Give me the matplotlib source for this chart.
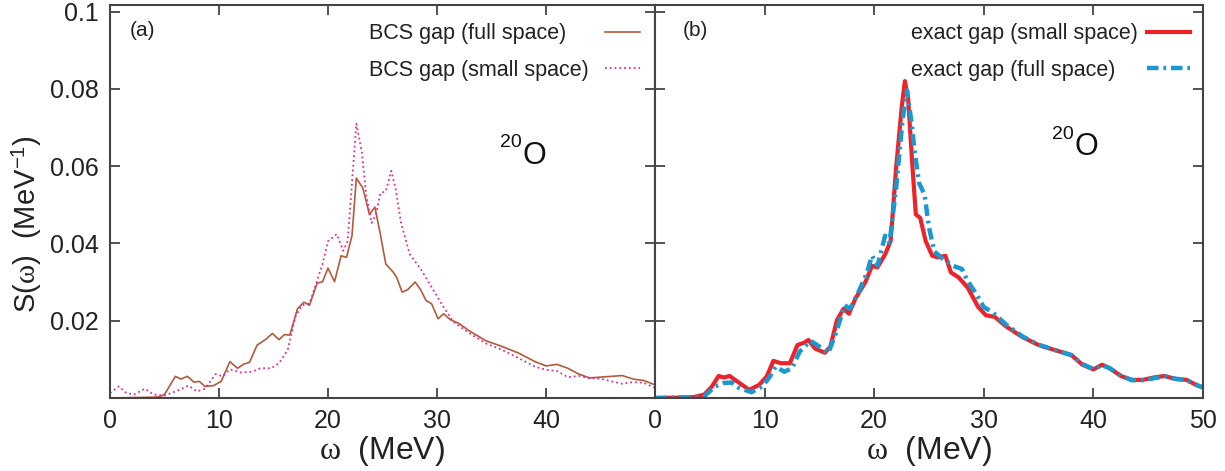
import numpy as np
import matplotlib
matplotlib.use('Agg')
import matplotlib.pyplot as plt
from matplotlib.lines import Line2D

plt.rcParams['font.family'] = ['Liberation Sans', 'DejaVu Sans']
plt.rcParams['mathtext.fontset'] = 'custom'
plt.rcParams['mathtext.rm'] = 'Liberation Serif'
plt.rcParams['mathtext.it'] = 'Liberation Serif'
plt.rcParams['mathtext.sf'] = 'Liberation Sans'

# (a) BCS gap, full space
w_bcs_full = [0, 2, 4, 4.5, 5, 6, 6.5, 7.1, 7.7, 8.2, 8.7, 9.5, 10.2, 11, 11.7, 12.3, 12.8,
              13.5, 14.3, 14.9, 15.5, 16, 16.5, 17.2, 17.8, 18.3, 19, 19.5, 20, 20.6, 21.2,
              21.7, 22.2, 22.6, 23.2, 23.8, 24.3, 24.8, 25.3, 26, 26.3, 26.8, 27.3, 28, 28.5,
              29, 29.5, 30.1, 30.6, 31.2, 32, 33, 34.5, 36, 37.5, 39, 40, 41, 42, 43, 44, 45,
              46, 47, 48, 49, 50]
s_bcs_full = [0, 0.0001, 0.0002, 0.0003, 0.0009, 0.0056, 0.0049, 0.0056, 0.0041, 0.0043, 0.003,
              0.0032, 0.0043, 0.0094, 0.0077, 0.0088, 0.0092, 0.0137, 0.0152, 0.0167, 0.0151,
              0.0164, 0.0163, 0.0231, 0.0248, 0.024, 0.0297, 0.0301, 0.0336, 0.0301, 0.0368,
              0.0364, 0.042, 0.0569, 0.0543, 0.0475, 0.0494, 0.0424, 0.0347, 0.0325, 0.0312,
              0.0274, 0.028, 0.03, 0.028, 0.0252, 0.0244, 0.0205, 0.0218, 0.0203, 0.0193,
              0.0173, 0.0148, 0.0133, 0.0116, 0.0094, 0.0083, 0.0087, 0.0077, 0.0062, 0.0052,
              0.0054, 0.0056, 0.0058, 0.0049, 0.0045, 0.0034]

# (a) BCS gap, small space
w_bcs_small = [0, 0.8, 1.5, 2.2, 3.2, 4, 5, 6, 6.5, 7.2, 8, 8.7, 9.7, 10.3, 11, 12, 13, 13.8,
               14.8, 15.5, 16.3, 17, 17.6, 18.3, 19, 19.5, 20, 20.8, 21.4, 21.8, 22.3, 22.6,
               23.1, 23.5, 24, 24.4, 24.8, 25.3, 25.8, 26.2, 26.7, 27.5, 28.5, 29.5, 30.5,
               31.5, 33, 34.5, 36, 37.5, 39, 40, 41, 42, 43, 44, 45, 46, 47, 48, 49, 50]
s_bcs_small = [0.0013, 0.003, 0.0013, 0.0009, 0.0024, 0.0009, 0.0006, 0.0017, 0.0023, 0.0032,
               0.0017, 0.0024, 0.0062, 0.0056, 0.0074, 0.0066, 0.0068, 0.0077, 0.0077, 0.009,
               0.0124, 0.021, 0.024, 0.0244, 0.0304, 0.0347, 0.0406, 0.0424, 0.0381, 0.0406,
               0.0595, 0.071, 0.0637, 0.0526, 0.0453, 0.0475, 0.053, 0.0535, 0.0588, 0.0543,
               0.0453, 0.0372, 0.0334, 0.0287, 0.024, 0.0197, 0.0167, 0.0141, 0.0124, 0.0103,
               0.0081, 0.0073, 0.007, 0.0054, 0.0057, 0.0051, 0.005, 0.0043, 0.0037, 0.0041,
               0.0039, 0.0026]

# (b) exact gap, small space
w_ex_small = [0, 2, 3.5, 4.5, 5.2, 5.8, 6.3, 6.8, 7.5, 8.6, 9.5, 10.2, 10.8, 11.5, 12.3, 13,
              13.6, 14, 14.6, 15.5, 16, 16.6, 17.2, 17.7, 18.3, 19.2, 19.8, 20.3, 21, 21.5,
              22, 22.5, 22.8, 23.1, 23.5, 23.8, 24.2, 24.7, 25.3, 25.8, 26.5, 27, 27.7, 28.5,
              29.5, 30.2, 31, 32, 33.5, 35, 36.5, 38, 39, 40, 40.8, 41.5, 42.5, 43.5, 44.5,
              45.5, 46.5, 47.5, 48.5, 49.5, 50]
s_ex_small = [0, 0.0001, 0.0002, 0.0009, 0.003, 0.0057, 0.0053, 0.0057, 0.0043, 0.0021, 0.0034,
              0.0056, 0.0096, 0.009, 0.009, 0.0137, 0.0143, 0.015, 0.0128, 0.0117, 0.0133,
              0.0201, 0.0231, 0.0218, 0.0258, 0.03, 0.0342, 0.0338, 0.0372, 0.0406, 0.0595,
              0.0749, 0.082, 0.0774, 0.0595, 0.0475, 0.0466, 0.0406, 0.0368, 0.0364, 0.0368,
              0.0325, 0.0312, 0.0287, 0.0235, 0.0214, 0.021, 0.0186, 0.0158, 0.0137, 0.0124,
              0.0111, 0.0086, 0.0074, 0.0086, 0.0077, 0.0057, 0.0047, 0.0047, 0.0053, 0.0057,
              0.0049, 0.0047, 0.0032, 0.0028]

# (b) exact gap, full space
w_ex_full = [0, 2, 3.5, 4.5, 5.5, 6.3, 7, 7.6, 8.8, 9.8, 10.5, 11, 11.8, 12.5, 13.2, 14.2, 15,
             15.8, 16.5, 17.3, 17.8, 18.5, 19.3, 19.8, 20.3, 21, 21.4, 22, 22.6, 23, 23.4,
             23.7, 24.1, 24.6, 25, 25.5, 26.3, 27.2, 28, 28.5, 29.3, 30, 30.8, 32, 33.5, 35,
             36.5, 38, 39, 40, 40.8, 41.5, 42.5, 43.5, 44.5, 45.5, 46.5, 47.5, 48.5, 49.5, 50]
s_ex_full = [0, 0.0001, 0.0002, 0.0005, 0.003, 0.0039, 0.004, 0.0027, 0.0015, 0.003, 0.0056,
             0.0081, 0.0068, 0.0077, 0.012, 0.0148, 0.0133, 0.0116, 0.0167, 0.024, 0.0231,
             0.027, 0.0321, 0.0368, 0.0342, 0.042, 0.0402, 0.0543, 0.0723, 0.0796, 0.0714,
             0.0637, 0.0556, 0.0526, 0.0441, 0.0379, 0.0359, 0.0342, 0.0334, 0.0304, 0.027,
             0.0235, 0.0222, 0.0191, 0.016, 0.0138, 0.0124, 0.0111, 0.0088, 0.0075, 0.0085,
             0.0077, 0.0058, 0.0046, 0.0046, 0.0051, 0.0056, 0.005, 0.0046, 0.0033, 0.0027]

fig = plt.figure(figsize=(12.25, 4.71), dpi=100)
ax1 = fig.add_axes([0.0898, 0.155, 0.4449, 0.8344])
ax2 = fig.add_axes([0.5347, 0.155, 0.4473, 0.8344])

l1, = ax1.plot(w_bcs_full, s_bcs_full, color='#b25a3c', lw=1.2)
l2, = ax1.plot(w_bcs_small, s_bcs_small, color='#e6289b', lw=1.3, ls=':')

l3, = ax2.plot(w_ex_small, s_ex_small, color='#ee2229', lw=3)
l4, = ax2.plot(w_ex_full, s_ex_full, color='#1a98cf', lw=3.2, ls=(0, (2.6, 1.1, 0.6, 1.1)))

for ax in (ax1, ax2):
    ax.set_xlim(0, 50)
    ax.set_ylim(0, 0.1017)
    ax.set_xticks([0, 10, 20, 30, 40, 50])
    ax.set_yticks([0.02, 0.04, 0.06, 0.08, 0.1])
    ax.tick_params(direction='in', length=7, width=1.2, top=True, right=True,
                   labelsize=18, colors='#333333', labelcolor='#222222', pad=8)
    for sp in ax.spines.values():
        sp.set_color('#444444')
        sp.set_linewidth(1.5)
    ax.set_xlabel(r'$\omega$  (MeV)', fontsize=23, color='#222222', labelpad=1)

ax1.set_xticklabels(['0', '10', '20', '30', '40', ''])
ax1.set_yticklabels(['0.02', '0.04', '0.06', '0.08', '0.1'])
ax2.set_yticklabels([])
ax1.set_ylabel(r'S($\omega$)  (MeV$^{\mathsf{-1}}$)', fontsize=21, color='#222222')
ax1.yaxis.set_label_coords(-0.122, 0.443)

ax1.text(0.037, 0.935, '(a)', transform=ax1.transAxes, fontsize=15, color='#222222',
         va='center')
ax2.text(0.05, 0.935, '(b)', transform=ax2.transAxes, fontsize=15, color='#222222',
         va='center')

# nucleus label: small mass number, big symbol
for ax, xo, yo, ys in ((ax1, 0.757, 0.617, 0.651), (ax2, 0.765, 0.639, 0.671)):
    ax.text(xo, yo, 'O', transform=ax.transAxes, fontsize=22, color='#111111',
            ha='left', va='center')
    ax.text(xo - 0.001, ys, '20', transform=ax.transAxes, fontsize=14, color='#111111',
            ha='right', va='center')

# gnuplot-style key: text column left-aligned, sample column on the right
blank = Line2D([], [], color='none')
leg1 = ax1.legend([blank, blank, l1, l2],
                  ['BCS gap (full space)', 'BCS gap (small space)', '', ''],
                  ncol=2, loc='upper right', bbox_to_anchor=(0.98, 0.954), frameon=False,
                  fontsize=15.5, handlelength=1.63, handletextpad=0.2, columnspacing=0.75,
                  labelspacing=0.73, borderpad=0, borderaxespad=0)
leg2 = ax2.legend([blank, blank, l3, l4],
                  ['exact gap (small space)', 'exact gap (full space)', '', ''],
                  ncol=2, loc='upper right', bbox_to_anchor=(0.984, 0.954), frameon=False,
                  fontsize=15.5, handlelength=2.0, handletextpad=0.2, columnspacing=0.4,
                  labelspacing=0.73, borderpad=0, borderaxespad=0)
for leg in (leg1, leg2):
    for t in leg.get_texts():
        t.set_color('#222222')

fig.savefig('out.png', dpi=100)
